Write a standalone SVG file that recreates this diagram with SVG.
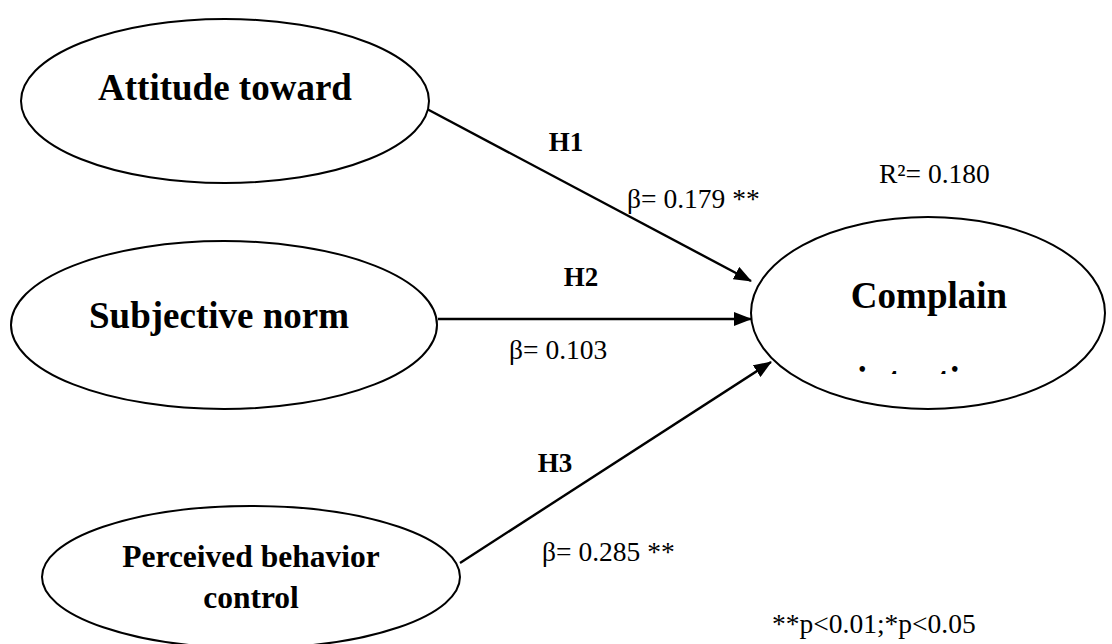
<svg xmlns="http://www.w3.org/2000/svg" width="1112" height="644" viewBox="0 0 1112 644">
<style>
.node{fill:#fff;stroke:#000;stroke-width:2}
.title{font-family:"Liberation Serif","Times New Roman",serif;font-weight:bold;font-size:37px;fill:#000;text-anchor:middle}
.small{font-size:31.5px}
.lab{font-family:"Liberation Serif","Times New Roman",serif;font-weight:bold;font-size:27px;fill:#000;text-anchor:middle}
.val{font-family:"Liberation Serif","Times New Roman",serif;font-size:27.5px;fill:#000}
.edge{stroke:#000;stroke-width:2.4;fill:none;marker-end:url(#arr)}
</style>
<defs>
<marker id="arr" viewBox="0 0 18 14" refX="17" refY="7" markerWidth="18" markerHeight="14" markerUnits="userSpaceOnUse" orient="auto">
<path d="M0,0 L18,7 L0,14 Z" fill="#000"/>
</marker>
<clipPath id="clipInt"><rect x="740" y="0" width="372" height="374"/></clipPath>
</defs>
<rect width="1112" height="644" fill="#fff"/>
<g id="connectors">
<line class="edge" x1="427" y1="109" x2="751" y2="281"/>
<line class="edge" x1="438" y1="319" x2="751" y2="319"/>
<line class="edge" x1="460" y1="563" x2="771" y2="362"/>
</g>
<g id="attitude">
<ellipse class="node" cx="225" cy="101" rx="204" ry="82"/>
<text class="title" x="225" y="100">Attitude toward</text>
</g>
<g id="subjective">
<ellipse class="node" cx="224" cy="325" rx="213" ry="84"/>
<text class="title" x="219" y="328">Subjective norm</text>
</g>
<g id="pbc">
<ellipse class="node" cx="251" cy="577" rx="209" ry="71"/>
<text class="title small" x="251" y="567">Perceived behavior</text>
<text class="title small" x="251" y="608">control</text>
</g>
<g id="complain">
<ellipse class="node" cx="928" cy="313" rx="177" ry="96"/>
<text class="title" x="929" y="308">Complain</text>
<text class="title" x="928" y="393" clip-path="url(#clipInt)">intention</text>
</g>
<g id="labels">
<text class="lab" x="566" y="151">H1</text>
<text class="val" x="627" y="208">β= 0.179 **</text>
<text class="lab" x="581" y="286">H2</text>
<text class="val" x="509" y="359">β= 0.103</text>
<text class="lab" x="555" y="472">H3</text>
<text class="val" x="542" y="561">β= 0.285 **</text>
<text class="val" x="879" y="183">R²= 0.180</text>
<text class="val" x="772" y="633">**p&lt;0.01;*p&lt;0.05</text>
</g>
</svg>
